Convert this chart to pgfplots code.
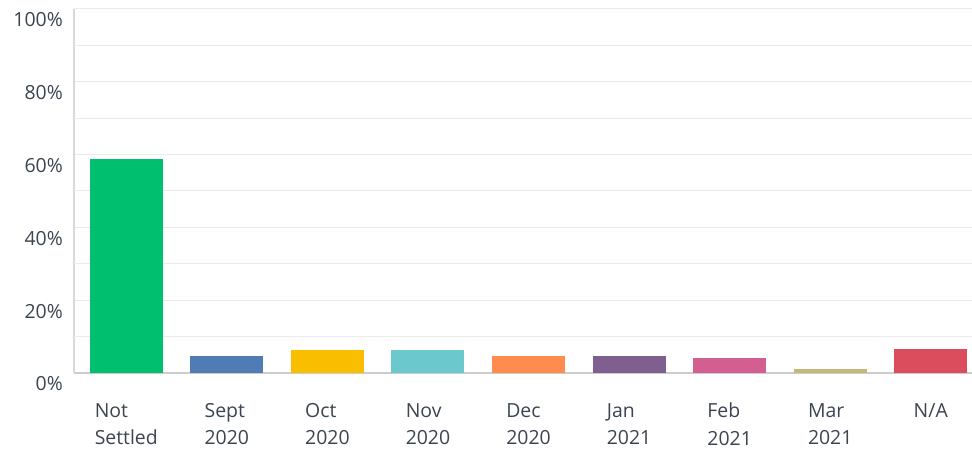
\documentclass[border=0pt]{standalone}
\usepackage{pgfplots}
\pgfplotsset{compat=1.18}
\usepackage{fontspec}
\setmainfont{Open Sans}
\definecolor{lab}{HTML}{3B4450}
\definecolor{c1}{HTML}{00BF6F}
\definecolor{c2}{HTML}{507CB6}
\definecolor{c3}{HTML}{F9BE00}
\definecolor{c4}{HTML}{6BC8CD}
\definecolor{c5}{HTML}{FF8B4F}
\definecolor{c6}{HTML}{7F5F90}
\definecolor{c7}{HTML}{D25F90}
\definecolor{c8}{HTML}{C7B879}
\definecolor{c9}{HTML}{DB4D5C}
\begin{document}
\begin{tikzpicture}
\begin{axis}[
  scale only axis,
  width=898bp, height=364bp,
  xmin=-0.52, xmax=8.41,
  ymin=0, ymax=100,
  axis x line*=bottom,
  axis y line*=left,
  x axis line style={draw=black!20, line width=1.5bp},
  y axis line style={draw=black!15, line width=1.2bp},
  ytick={0,20,...,100},
  extra y ticks={10,30,50,70,90},
  extra y tick labels={},
  extra y tick style={grid=major, major grid style={draw=black!8, line width=1bp}},
  ymajorgrids,
  major grid style={draw=black!8, line width=1bp},
  yticklabel={\pgfmathprintnumber{\tick}\%},
  /pgf/number format/assume math mode=true,
  yticklabel style={font=\fontsize{19.5}{22}\selectfont, text=lab, anchor=east, inner sep=0pt, yshift=-11bp, xshift=-11bp},
  xtick={0,...,8},
  xticklabels={{Not\\Settled},{Sept\\2020},{Oct\\2020},{Nov\\2020},{Dec\\2020},{Jan\\2021},{Feb\\2021},{Mar\\2021},{N/A}},
  xticklabel style={font=\fontsize{19.5}{27.5}\selectfont, text=lab, align=left, anchor=north, inner sep=0pt, yshift=-30bp},
  major tick length=0pt,
  tick style={draw=none},
  ybar, bar width=73bp,
  every axis plot/.append style={bar shift=0pt, draw=none},
  clip=false,
]
\coordinate (bl) at (rel axis cs:0,0);
\coordinate (tr) at (rel axis cs:1,1);
\addplot[fill=c1] coordinates {(0,58.8)};
\addplot[fill=c2] coordinates {(1,4.7)};
\addplot[fill=c3] coordinates {(2,6.3)};
\addplot[fill=c4] coordinates {(3,6.3)};
\addplot[fill=c5] coordinates {(4,4.7)};
\addplot[fill=c6] coordinates {(5,4.7)};
\addplot[fill=c7] coordinates {(6,4.1)};
\addplot[fill=c8] coordinates {(7,1.1)};
\addplot[fill=c9] coordinates {(8,6.6)};
\end{axis}
\pgfresetboundingbox
\path ([shift={(-74bp,-76bp)}]bl) rectangle ([shift={(0bp,9bp)}]tr);
\end{tikzpicture}
\end{document}
